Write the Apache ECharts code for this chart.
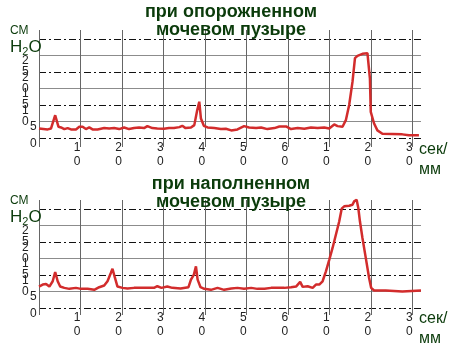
<!DOCTYPE html>
<html><head><meta charset="utf-8">
<script src="https://cdn.jsdelivr.net/npm/echarts@6/dist/echarts.min.js"></script>
<style>html,body{margin:0;padding:0;background:#fff}#c{width:462px;height:355px}</style>
</head><body><div id="c"></div>
<script>
// ---- data ----
const topTime = [0, 2.1, 2.9, 3.9, 4.7, 5.3, 6.1, 6.9, 7.7, 8.9, 9.7, 10.5, 11.3, 12.1, 12.9, 14.1, 15.7, 16.9, 18.1, 19.3, 20.5, 21.7, 22.9, 24.1, 25.3, 26.1, 27.3, 28.5, 30.1, 31.3, 32.5, 33.8, 34.5, 35.3, 36.6, 37.4, 38.1, 38.6, 39.0, 39.7, 40.6, 42.2, 43.8, 45.0, 46.3, 47.8, 49.4, 50.6, 52.3, 53.5, 55.0, 56.7, 57.9, 59.5, 60.7, 62.3, 63.9, 65.5, 67.1, 68.7, 69.9, 71.1, 71.9, 73.1, 73.9, 74.7, 75.5, 76.1, 76.7, 77.9, 79.1, 79.5, 79.7, 79.9, 80.7, 81.5, 82.7, 85.1, 87.5, 89.1, 91.5];
const topPressure = [2.9, 2.6, 2.9, 6.9, 3.4, 3.2, 2.7, 3.0, 2.6, 2.6, 3.4, 3.4, 2.7, 3.2, 2.6, 2.6, 3.0, 2.9, 3.0, 2.7, 3.2, 2.7, 3.0, 3.2, 3.0, 3.6, 3.0, 2.9, 2.8, 3.0, 3.0, 3.3, 3.7, 3.0, 3.2, 3.9, 8.4, 11.0, 5.9, 3.7, 3.2, 3.0, 2.7, 2.8, 2.3, 2.6, 3.6, 3.2, 3.0, 3.2, 2.7, 3.0, 3.5, 3.5, 2.7, 3.0, 2.8, 3.2, 3.0, 3.2, 2.9, 4.1, 3.6, 3.4, 5.4, 10.0, 17.0, 24.2, 24.9, 25.5, 25.7, 25.2, 18.0, 7.9, 4.4, 2.3, 1.3, 1.2, 1.1, 0.8, 0.8];
const bottomTime = [0, 0.9, 1.7, 2.5, 3.3, 3.9, 4.5, 5.1, 6.1, 7.3, 8.9, 10.1, 11.7, 13.3, 14.5, 15.7, 16.5, 17.3, 17.7, 18.3, 18.9, 20.1, 21.3, 22.9, 25.3, 27.7, 28.5, 29.5, 30.9, 32.1, 34.1, 36.0, 36.6, 37.3, 37.8, 38.2, 38.9, 39.8, 41.4, 43.0, 44.6, 46.3, 47.8, 49.4, 51.1, 52.6, 54.3, 55.9, 59.1, 60.7, 61.9, 62.9, 63.5, 64.7, 65.9, 66.7, 67.5, 68.3, 69.1, 69.9, 70.7, 71.5, 72.3, 72.9, 73.5, 74.7, 75.5, 75.9, 76.5, 76.9, 77.3, 77.9, 78.7, 79.5, 80.0, 80.7, 83.5, 87.5, 92];
const bottomPressure = [6.5, 7.1, 7.3, 6.5, 8.1, 10.9, 8.1, 6.5, 6.1, 5.8, 6.1, 5.8, 5.8, 5.5, 6.3, 6.8, 8.1, 10.6, 11.9, 9.1, 6.5, 6.1, 5.9, 6.1, 6.1, 6.1, 6.6, 6.1, 6.5, 6.1, 5.9, 6.3, 8.6, 10.1, 12.6, 8.6, 6.3, 5.8, 5.5, 6.1, 5.5, 5.9, 6.1, 5.8, 6.1, 5.8, 5.8, 6.1, 6.1, 6.3, 6.5, 7.9, 6.4, 6.6, 6.1, 7.1, 7.1, 8.1, 11.1, 14.6, 18.2, 22.2, 26.2, 30.1, 30.8, 31.0, 31.3, 32.3, 32.8, 30.3, 26.2, 21.2, 15.2, 9.1, 6.1, 5.3, 5.3, 5.0, 5.3];
const xTickValues = [10, 20, 30, 40, 50, 60, 70, 80, 90];
const xTickLabels = ['10', '20', '30', '40', '50', '60', '10', '20', '30'];
const yTickLabels = ['0', '5', '10', '15', '20', '25', '30'];
const panelTitles = ['при опорожненном\nмочевом пузыре', 'при наполненном\nмочевом пузыре'];
const yUnitLine1 = 'СМ';
const yUnitLine2 = 'H{s|2}O';
const xUnitLine1 = 'сек/';
const xUnitLine2 = 'мм';

// ---- styling ----
const FONT = 'Liberation Sans, Arial, sans-serif';
const GREEN = '#0b3b0b';
const RED = '#d22c2c';
const panels = [
  { plotTop: 39, tallTop: 30, tallH: 117, titleTop: 3, time: topTime, val: topPressure },
  { plotTop: 209, tallTop: 200, tallH: 115, titleTop: 175, time: bottomTime, val: bottomPressure }
];
const LEFT = 39, PX_PER_S = (421 - 39) / 92, PLOT_H = 99;

const grid = [], xAxis = [], yAxis = [], series = [], title = [], graphic = [];
panels.forEach((p, k) => {
  const g0 = grid.length;
  grid.push({ left: LEFT, top: p.plotTop, width: 92 * PX_PER_S, height: PLOT_H, containLabel: false });
  grid.push({ left: LEFT, top: p.tallTop, width: 90 * PX_PER_S, height: p.tallH, containLabel: false });
  const x0 = xAxis.length;
  xAxis.push({
    gridIndex: g0, type: 'value', min: 0, max: 92, interval: 10,
    axisLine: { show: false }, axisTick: { show: false }, splitLine: { show: false },
    axisLabel: {
      margin: 3, align: 'right', fontSize: 12, lineHeight: 14, color: '#222', fontFamily: FONT,
      showMaxLabel: false,
      formatter: v => { const i = xTickValues.indexOf(v); return i < 0 ? '' : xTickLabels[i].split('').join('\n'); }
    }
  });
  xAxis.push({
    gridIndex: g0 + 1, type: 'value', min: 0, max: 90, interval: 10,
    axisLine: { show: false }, axisTick: { show: false }, axisLabel: { show: false },
    splitLine: { show: true, lineStyle: { color: '#666', width: 1 } }
  });
  const y0 = yAxis.length;
  yAxis.push({
    gridIndex: g0, type: 'value', min: 0, max: 30, interval: 5,
    axisLine: { show: false }, axisTick: { show: false },
    splitLine: { show: true, lineStyle: { color: ['#111', 'rgba(0,0,0,0)'], width: 1, type: [7, 3, 2, 3] } },
    axisLabel: {
      margin: 17, align: 'left', verticalAlign: 'top', fontSize: 12, lineHeight: 11, color: '#222', fontFamily: FONT,
      formatter: v => { const s = yTickLabels[v / 5]; return s.length > 1 ? s.split('').join('\n') : '{p|' + s + '}'; },
      rich: { p: { padding: [0, 0, 0, 8], fontSize: 12, color: '#222', fontFamily: FONT } }
    }
  });
  yAxis.push({
    gridIndex: g0, type: 'value', min: 0, max: 30, interval: 5,
    axisLine: { show: false }, axisTick: { show: false }, axisLabel: { show: false },
    splitLine: { show: true, lineStyle: { color: ['rgba(0,0,0,0)', '#8c8c8c'], width: 1 } }
  });
  yAxis.push({ gridIndex: g0 + 1, type: 'value', show: false, min: 0, max: 1, splitLine: { show: false } });
  series.push({
    type: 'line', xAxisIndex: x0, yAxisIndex: y0, clip: false, showSymbol: false, z: 5,
    data: p.time.map((t, i) => [t, p.val[i]]),
    lineStyle: { color: RED, width: 2.5 }, itemStyle: { color: RED }
  });
  title.push({
    text: panelTitles[k], left: 'center', top: p.titleTop, padding: 0,
    textStyle: { fontSize: 18, fontWeight: 'bold', color: GREEN, lineHeight: 18, fontFamily: FONT }
  });
  graphic.push({ type: 'text', left: 10, top: p.plotTop - 14, z: 1,
    style: { text: yUnitLine1, fontSize: 12, fill: GREEN, fontFamily: FONT } });
  graphic.push({ type: 'text', left: 10, top: p.plotTop + 0, z: 1,
    style: { text: yUnitLine2, fontSize: 17, fill: GREEN, fontFamily: FONT,
      rich: { s: { fontSize: 11, fill: GREEN, fontFamily: FONT, padding: [8, 0, 0, 0] } } } });
  graphic.push({ type: 'text', left: 419, top: p.plotTop + PLOT_H + 2 - (k ? 1 : 0), z: 1,
    style: { text: xUnitLine1 + '\n' + xUnitLine2, fontSize: 16, lineHeight: 20, fill: GREEN, fontFamily: FONT } });
});

const chart = echarts.init(document.getElementById('c'), null, { renderer: 'canvas' });
chart.setOption({ animation: false, backgroundColor: '#fff', title, grid, xAxis, yAxis, series, graphic });
</script></body></html>
